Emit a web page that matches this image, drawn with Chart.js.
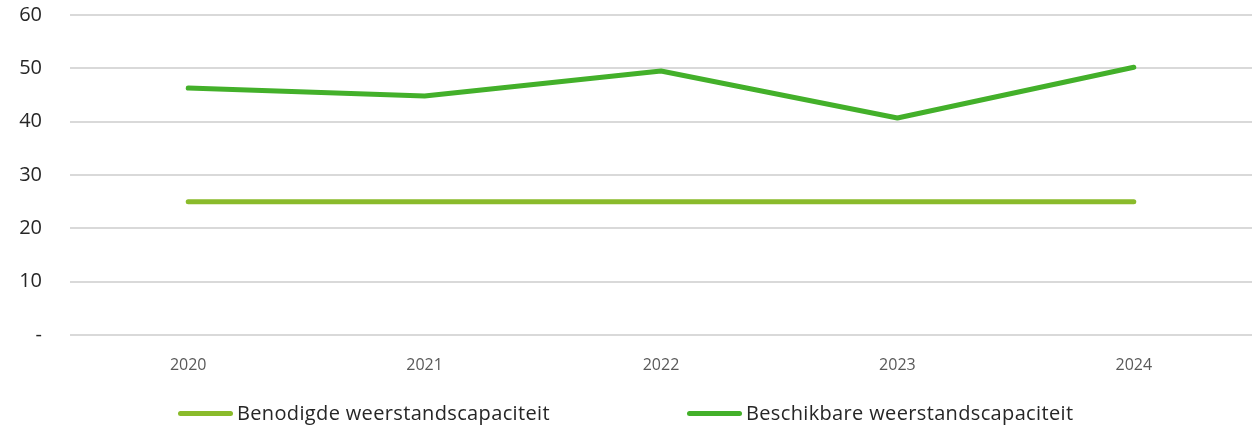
<!DOCTYPE html>
<html>
<head>
<meta charset="utf-8">
<script src="https://cdn.jsdelivr.net/npm/chart.js@4"></script>
<style>
  html, body { margin: 0; padding: 0; background: #fff; }
  #wrap { position: relative; width: 1260px; height: 427px; }
  #legend {
    position: absolute; left: 0; top: 398px; width: 1260px; height: 29px;
    font-family: 'Open Sans', 'Noto Sans', sans-serif;
    font-size: 20px; letter-spacing: 0.35px; color: #262626;
  }
  .item { position: absolute; top: 0; white-space: nowrap; line-height: 29px; }
  .swatch {
    display: inline-block; width: 55px; height: 5px; border-radius: 3px;
    vertical-align: middle; margin-right: 4px; position: relative; top: -1px;
  }
</style>
</head>
<body>
<div id="wrap">
  <canvas id="chart" width="1260" height="427"></canvas>
  <div id="legend"></div>
</div>
<script>
const years = ["2020", "2021", "2022", "2023", "2024"];
const benodigd = [25, 25, 25, 25, 25];
const beschikbaar = [46.3, 44.8, 49.5, 40.7, 50.2];
const yTicks = [0, 10, 20, 30, 40, 50, 60];
const seriesNames = ["Benodigde weerstandscapaciteit", "Beschikbare weerstandscapaciteit"];
const seriesColors = ["#8abb2b", "#43b02a"];

const FONT = "'Open Sans', 'Noto Sans', sans-serif";

const chart = new Chart(document.getElementById("chart"), {
    type: "line",
    data: {
        labels: years,
        datasets: [benodigd, beschikbaar].map((vals, i) => ({
            label: seriesNames[i],
            data: vals,
            borderColor: seriesColors[i],
            backgroundColor: seriesColors[i],
            borderWidth: 5,
            borderCapStyle: "round",
            borderJoinStyle: "round",
            pointRadius: 0,
            tension: 0
        }))
    },
    options: {
        responsive: false,
        animation: false,
        layout: { padding: { left: 0, right: 8, top: 15, bottom: 42 } },
        plugins: {
            tooltip: { enabled: false },
            legend: { display: false }
        },
        scales: {
            x: {
                offset: true,
                grid: { display: false },
                border: { display: false },
                afterFit(axis) { axis.height = 50; },
                ticks: {
                    color: "#595959",
                    padding: 13,
                    font: { family: FONT, size: 16 }
                }
            },
            y: {
                min: 0,
                max: 60,
                afterBuildTicks(axis) {
                    axis.ticks = yTicks.map(v => ({ value: v }));
                },
                afterFit(axis) {
                    axis.width = 70;
                    axis.paddingTop = 0;
                    axis.paddingBottom = 0;
                },
                grid: { color: "#d9d9d9", lineWidth: 2, drawTicks: false },
                border: { display: false },
                ticks: {
                    color: "#262626",
                    padding: 28,
                    font: { family: FONT, size: 20 },
                    callback: v => (v === 0 ? "-" : v)
                }
            }
        }
    }
});

// html legend
const legendX = [178, 687];
const legend = document.getElementById("legend");
chart.data.datasets.forEach((ds, i) => {
    const item = document.createElement("div");
    item.className = "item";
    item.style.left = legendX[i] + "px";
    item.innerHTML = `<span class="swatch" style="background:${ds.borderColor}"></span>${ds.label}`;
    legend.appendChild(item);
});
</script>
</body>
</html>
